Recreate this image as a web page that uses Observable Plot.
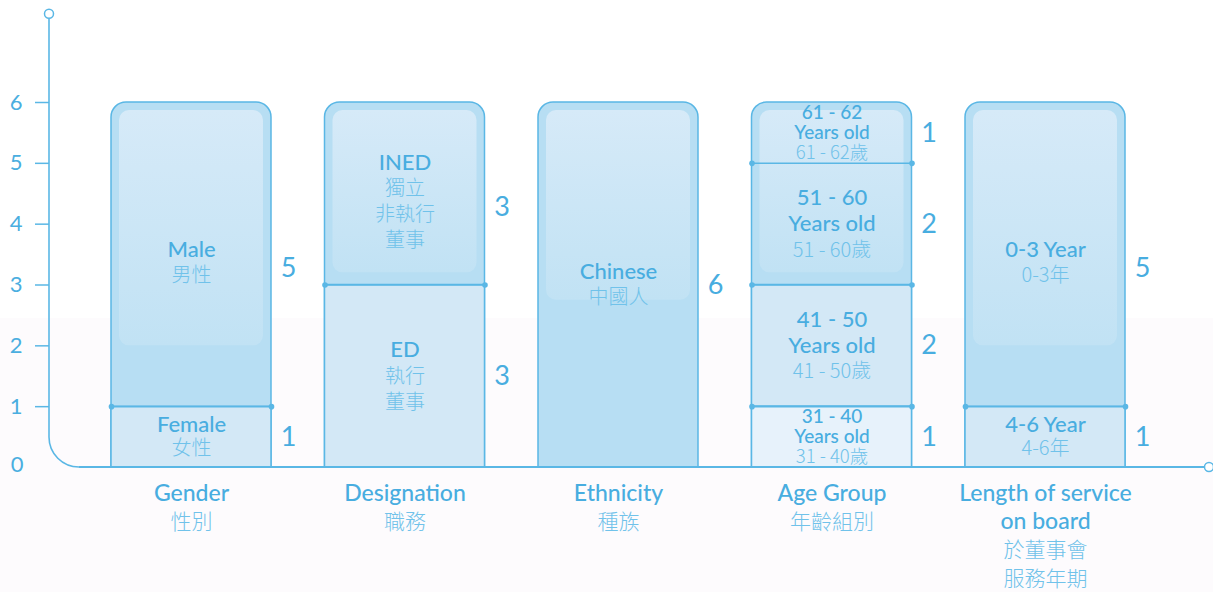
<!DOCTYPE html>
<html>
<head>
<meta charset="utf-8">
<script src="https://cdn.jsdelivr.net/npm/d3@7"></script>
<script src="https://cdn.jsdelivr.net/npm/@observablehq/plot@0.6"></script>
<style>
html, body { margin: 0; padding: 0; }
body {
  width: 1213px; height: 592px; overflow: hidden;
  background: linear-gradient(to bottom, #ffffff 0, #ffffff 318px, #fdfbfd 318px, #fdfbfd 100%);
}
#chart svg { display: block; overflow: visible; }
</style>
</head>
<body>
<div id="chart"></div>
<script>
// ---------------- data ----------------
const categoriesEn = ["Gender", "Designation", "Ethnicity", "Age Group", "Length of service\non board"];
const categoriesZh = ["性別", "職務", "種族", "年齡組別", "於董事會\n服務年期"];

// stacked segments (bottom to top within each category)
const segmentCategory = [0, 0, 1, 1, 2, 3, 3, 3, 3, 4, 4];
const segmentValues   = [1, 5, 3, 3, 6, 1, 2, 2, 1, 1, 5];
const segmentEn = ["Female", "Male", "ED", "INED", "Chinese",
  "31 - 40\nYears old", "41 - 50\nYears old", "51 - 60\nYears old", "61 - 62\nYears old",
  "4-6 Year", "0-3 Year"];
const segmentZh = ["女性", "男性", "執行\n董事", "獨立\n非執行\n董事", "中國人",
  "31 - 40歲", "41 - 50歲", "51 - 60歲", "61 - 62歲",
  "4-6年", "0-3年"];

const yTicks = [1, 2, 3, 4, 5, 6];

// ---------------- layout constants ----------------
const W = 1213, H = 592;
const BASE = 467, TOP6 = 102;            // pixel rows of y=0 and y=6
const PX = (BASE - TOP6) / 6;           // pixels per unit
const HALF = 0.3747;                    // half bar width in x units
const LINE = "#5ab7e5";
const EN = "#48ade0";
const ZH = "#70c2ea";
const DARK = "#b7def3", LIGHT = "#d3e8f6", PALE = "#e7f2fb";
const ENW = 500;

// ---------------- derived tables ----------------
const totals = categoriesEn.map(() => 0);
const segs = segmentValues.map((v, k) => {
  const c = segmentCategory[k];
  const y1 = totals[c];
  totals[c] += v;
  return {c, y1, y2: totals[c], v, en: segmentEn[k], zh: segmentZh[k]};
});
segs.forEach(s => {
  s.isTop = s.y2 === totals[s.c];
  s.depth = segs.filter(o => o.c === s.c && o.y1 >= s.y2).length;
  s.shade = (s.depth === 0 || s.y2 >= 5) ? "dark" : s.depth >= 3 ? "pale" : "light";
  s.nudge = (s.isTop && s.y1 > 0 && s.v >= 3) ? 1 : 0;
  s.mid = (s.y1 + s.y2) / 2;
});
const bars = categoriesEn.map((_, c) => {
  const darkBottom = d3.min(segs.filter(s => s.c === c && s.shade === "dark"), s => s.y1);
  return {c, total: totals[c], hlEnd: Math.max(darkBottom + 0.2, darkBottom === 0 ? 2.75 : 2)};
});
const bounds = segs.filter(s => !s.isTop).map(s => ({c: s.c, y: s.y2}));
const boundEnds = bounds.flatMap(b => [{x: b.c - HALF, y: b.y}, {x: b.c + HALF, y: b.y}]);

// in-bar text lines
const textLines = [];
segs.forEach(s => {
  const lines = [...s.en.split("\n").map(t => ({t, kind: "en"})), ...s.zh.split("\n").map(t => ({t, kind: "zh"}))];
  const segPx = s.v * PX;
  const n = lines.length;
  const tight = segPx <= 65 && n >= 3;
  const lh = tight ? 20 : segPx <= 65 ? 24 : 26;
  lines.forEach((l, k) => {
    const off = (k - (n - 1) / 2) * lh + s.nudge * 8;
    textLines.push({x: s.c, y: s.mid - off / PX, text: l.t, kind: l.kind,
      size: l.kind === "en" ? (tight ? 19 : 22) : (tight ? 18.5 : 20)});
  });
});
// category labels below axis
const catLines = [];
categoriesEn.forEach((en, c) => {
  const lines = [...en.split("\n").map(t => ({t, kind: "en"})), ...categoriesZh[c].split("\n").map(t => ({t, kind: "zh"}))];
  lines.forEach((l, k) => catLines.push({x: c, y: -(26 + 28.5 * k) / PX, text: l.t, kind: l.kind}));
});
const valueLabels = segs.map(s => ({x: s.c + HALF, y: s.mid - s.nudge * 14 / PX, v: s.v}));

// ---------------- plot ----------------
const chart = Plot.plot({
  width: W, height: H,
  marginLeft: 49, marginRight: 4, marginTop: 90, marginBottom: H - BASE,
  style: {background: "transparent", fontFamily: "Lato, 'Noto Sans', sans-serif", fontSize: "22px", overflow: "visible"},
  x: {type: "linear", domain: [0, 4], range: [191, 1045], axis: null},
  y: {domain: [0, 6], range: [BASE, TOP6], axis: null},
  marks: [
    // full bar outline with rounded top (bottom clipped at baseline)
    Plot.rect(bars, {x1: d => d.c - HALF, x2: d => d.c + HALF, y1: d => -0.3, y2: "total",
      rx: 15, fill: DARK, stroke: LINE, strokeWidth: 1.5, clip: true}),
    // inner highlight
    Plot.rect(bars, {x1: d => d.c - HALF, x2: d => d.c + HALF, y1: "hlEnd", y2: "total",
      insetLeft: 8, insetRight: 8, insetTop: 8, rx: 10, fill: "url(#hl)"}),
    // lower segments
    Plot.rect(segs.filter(s => s.shade === "light"), {x1: d => d.c - HALF, x2: d => d.c + HALF, y1: "y1", y2: "y2",
      fill: LIGHT, stroke: LINE, strokeWidth: 1.5}),
    Plot.rect(segs.filter(s => s.shade === "pale"), {x1: d => d.c - HALF, x2: d => d.c + HALF, y1: "y1", y2: "y2",
      fill: PALE, stroke: LINE, strokeWidth: 1.5}),
    // segment boundaries
    Plot.ruleY(bounds, {y: "y", x1: d => d.c - HALF, x2: d => d.c + HALF, stroke: LINE, strokeWidth: 1.5}),
    Plot.dot(boundEnds, {x: "x", y: "y", r: 2.8, fill: LINE, stroke: null}),
    // y axis ticks
    Plot.axisY({ticks: yTicks, tickFormat: d => String(d), tickSize: 14, tickPadding: 13,
      color: "#4aaee0", stroke: LINE, strokeWidth: 1.5, fontSize: 22}),
    Plot.axisY({ticks: [0], tickFormat: d => String(d), tickSize: 0, tickPadding: 26, color: "#4aaee0",
      dy: -3, fontSize: 22}),
    // in-bar texts
    Plot.text(textLines.filter(d => d.kind === "en"), {x: "x", y: "y", text: "text", fill: EN,
      fontSize: "size", fontWeight: ENW, fontFamily: "Lato, sans-serif"}),
    Plot.text(textLines.filter(d => d.kind === "zh"), {x: "x", y: "y", text: "text", fill: ZH,
      fontSize: "size", fontWeight: 300, fontFamily: "'Noto Sans CJK TC', 'Noto Sans', sans-serif"}),
    // value labels
    Plot.text(valueLabels, {x: "x", y: "y", text: d => String(d.v), dx: 17, fill: EN,
      fontSize: 27, fontFamily: "Lato, sans-serif"}),
    // category labels
    Plot.text(catLines.filter(d => d.kind === "en"), {x: "x", y: "y", text: "text", fill: EN,
      fontSize: 23, fontWeight: ENW, fontFamily: "Lato, sans-serif"}),
    Plot.text(catLines.filter(d => d.kind === "zh"), {x: "x", y: "y", text: "text", fill: ZH,
      fontSize: 21, fontWeight: 300, fontFamily: "'Noto Sans CJK TC', sans-serif"})
  ]
});

// gradient for highlight + axis line decoration, using the plot's own y scale
const root = d3.select(chart);
root.selectAll("g[aria-label='y-axis tick label']")
  .attr("font-size", 22).style("font-size", "22px").attr("font-family", "Lato, sans-serif");
const defs = root.insert("defs", ":first-child");
const g = defs.append("linearGradient").attr("id", "hl").attr("x1", 0).attr("y1", 0).attr("x2", 0).attr("y2", 1);
g.append("stop").attr("offset", 0).attr("stop-color", "#d6eaf8");
g.append("stop").attr("offset", 1).attr("stop-color", "#c1e2f4");

const ys = chart.scale("y");
const y0 = ys.apply(0), yTop = ys.apply(7.45);
const xl = 49, xr = W - 4, R = 30, cr = 4.5;
root.append("path")
  .attr("d", `M${xl},${yTop + cr} V${y0 - R} A${R},${R} 0 0 0 ${xl + R},${y0}`)
  .attr("fill", "none").attr("stroke", LINE).attr("stroke-width", 1.6);
root.append("path")
  .attr("d", `M${xl + R},${y0} H${xr - cr}`)
  .attr("fill", "none").attr("stroke", LINE).attr("stroke-width", 2.2);
root.append("circle").attr("cx", xl).attr("cy", yTop).attr("r", cr)
  .attr("fill", "#fff").attr("stroke", LINE).attr("stroke-width", 1.5);
root.append("circle").attr("cx", xr).attr("cy", y0).attr("r", cr)
  .attr("fill", "#fff").attr("stroke", LINE).attr("stroke-width", 1.5);

document.getElementById("chart").appendChild(chart);
</script>
</body>
</html>
